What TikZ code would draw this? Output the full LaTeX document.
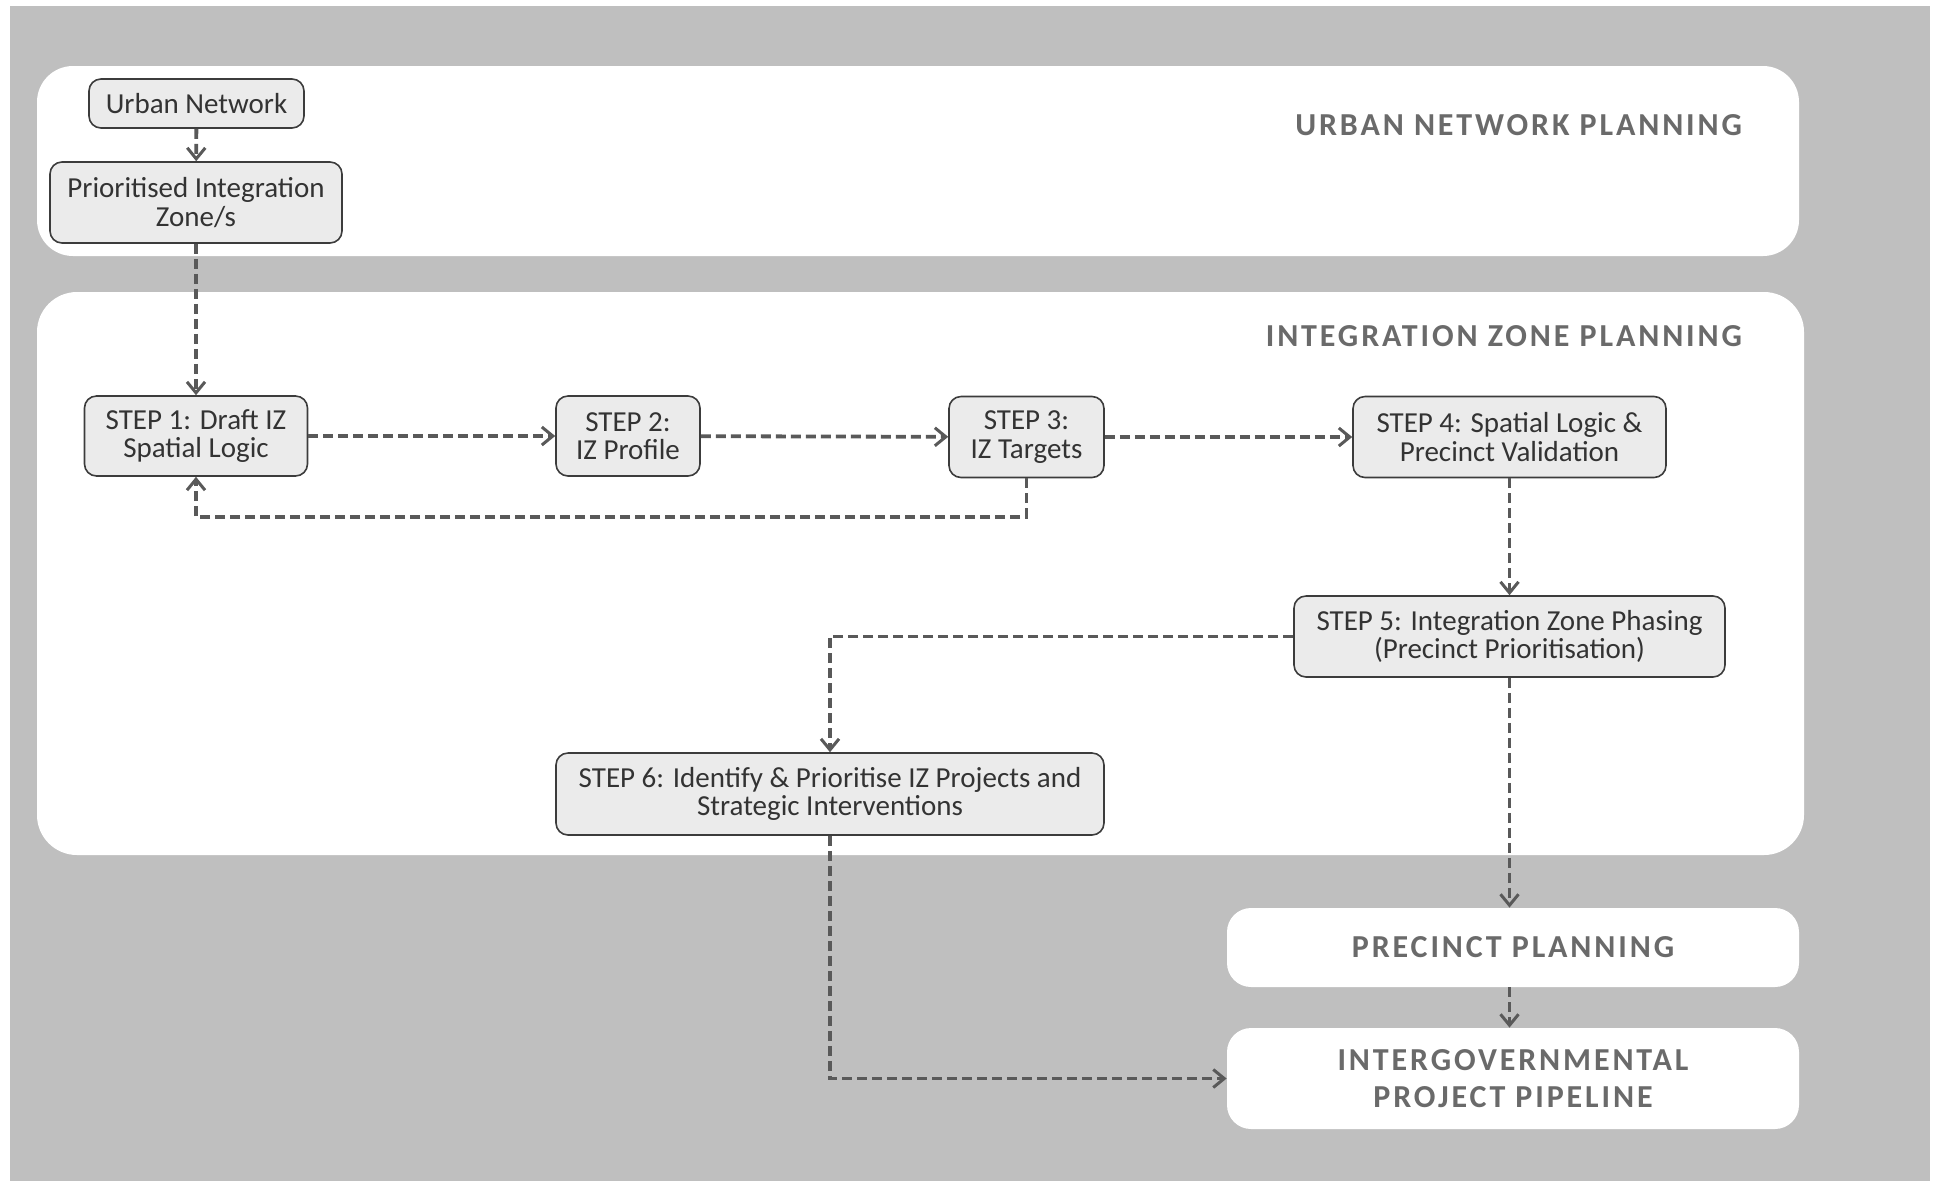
\documentclass[tikz,border=0pt]{standalone}
\usepackage{fontspec}
\setmainfont{Carlito}
\newfontfamily\stagefont[LetterSpace=9]{Carlito}
\usetikzlibrary{arrows.meta}
\usetikzlibrary{positioning}

\definecolor{panelgray}{HTML}{BFBFBF}
\definecolor{boxfill}{HTML}{EBEBEB}
\definecolor{boxline}{HTML}{3C3C3C}
\definecolor{flowline}{HTML}{595959}
\definecolor{titlegray}{HTML}{6A6A6A}

\begin{document}
\begin{tikzpicture}[x=0.5pt, y=-0.5pt,
    stepbox/.style={rectangle, rounded corners=6pt, draw=boxline, line width=0.8pt,
      fill=boxfill, text=black!80, align=center, inner sep=0pt,
      font=\fontsize{14.5}{14.2}\selectfont},
    stagebox/.style={rectangle, rounded corners=12pt, fill=white, align=center,
      inner sep=0pt, text=titlegray, font=\stagefont\fontsize{16}{18.2}\selectfont\bfseries},
    stagetitle/.style={anchor=east, text=titlegray, font=\stagefont\fontsize{16}{18}\selectfont\bfseries},
    flow/.style={draw=flowline, line width=1.9pt, dash pattern=on 5pt off 2.5pt,
      -{Straight Barb[length=5.5pt, width=9pt, line width=1.5pt]}}]

  % background and planning panels
  \useasboundingbox (0,0) rectangle (1943,1185);
  \fill[white] (0,0) rectangle (1943,1185);
  \fill[panelgray] (10,6) rectangle (1930,1181);
  \fill[white, rounded corners=18pt] (37,66) rectangle (1799,256);
  \fill[white, rounded corners=20pt] (37,292) rectangle (1804,855);
  \node[stagetitle] (unptitle) at (1749,125) {URBAN NETWORK PLANNING};
  \node[stagetitle] (izptitle) at (1749,336) {INTEGRATION ZONE PLANNING};

  % urban network
  \node[stepbox, minimum width=107.5pt, minimum height=24.5pt] (un) at (196.5,103.5) {Urban Network};
  \node[stepbox, minimum width=146pt, minimum height=40.5pt] (piz) at (196,202.5) {Prioritised Integration\\Zone/s};

  % steps
  \node[stepbox, minimum width=111.5pt, minimum height=40pt] (s1) at (196,436) {STEP 1: Draft IZ\\Spatial Logic};
  \node[stepbox, minimum width=72pt, minimum height=40pt] (s2) at (628,436) {STEP 2:\\IZ Profile};
  \node[stepbox, minimum width=77.5pt, minimum height=40.5pt] (s3) at (1026.5,437) {STEP 3:\\IZ Targets};
  \node[stepbox, minimum width=156.5pt, minimum height=40.5pt] (s4) at (1509.5,437) {STEP 4: Spatial Logic \&\\Precinct Validation};
  \node[stepbox, minimum width=215.5pt, minimum height=40.5pt] (s5) at (1509.5,636.5) {STEP 5: Integration Zone Phasing\\(Precinct Prioritisation)};
  \node[stepbox, minimum width=274pt, minimum height=41pt] (s6) at (830,794) {STEP 6: Identify \& Prioritise IZ Projects and\\Strategic Interventions};

  % downstream stages
  \node[stagebox, minimum width=286pt, minimum height=39.5pt] (pp) at (1513,947.5) {PRECINCT PLANNING};
  \node[stagebox, minimum width=286pt, minimum height=50.5pt] (igp) at (1513,1078.5) {INTERGOVERNMENTAL\\PROJECT PIPELINE};

  \coordinate (loop) at (196,517);

  \draw[flow] (un) -- (piz);
  \draw[flow] (piz) -- (s1);
  \draw[flow] (s1) -- (s2);
  \draw[flow] (s2) -- (s3);
  \draw[flow] (s3) -- (s4);
  \draw[flow] (s3.south) |- (loop) -- (s1.south);
  \draw[flow] (s4) -- (s5);
  \draw[flow] (s5.west) -| (s6.north);
  \draw[flow] (s5.south) -- (s5.south |- pp.north);
  \draw[flow] (s5.south |- pp.south) -- (s5.south |- igp.north);
  \draw[flow] (s6.south) |- (igp.west);
\end{tikzpicture}
\end{document}
